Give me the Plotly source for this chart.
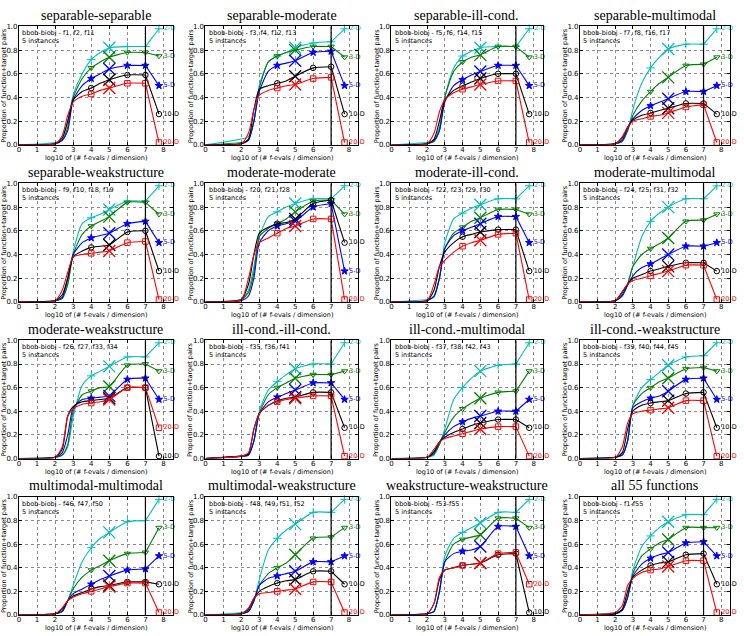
import plotly.graph_objects as go

# ---------------- data ----------------
PANEL_TITLES = [
    "separable-separable", "separable-moderate", "separable-ill-cond.", "separable-multimodal",
    "separable-weakstructure", "moderate-moderate", "moderate-ill-cond.", "moderate-multimodal",
    "moderate-weakstructure", "ill-cond.-ill-cond.", "ill-cond.-multimodal", "ill-cond.-weakstructure",
    "multimodal-multimodal", "multimodal-weakstructure", "weakstructure-weakstructure", "all 55 functions",
]
PANEL_FUNCS = [
    "f1, f2, f11", "f3, f4, f12, f13", "f5, f6, f14, f15", "f7, f8, f16, f17",
    "f9, f10, f18, f19", "f20, f21, f28", "f22, f23, f29, f30", "f24, f25, f31, f32",
    "f26, f27, f33, f34", "f35, f36, f41", "f37, f38, f42, f43", "f39, f40, f44, f45",
    "f46, f47, f50", "f48, f49, f51, f52", "f53-f55", "f1-f55",
]
DIM_LABELS = ["2-D", "3-D", "5-D", "10-D", "20-D"]

LOG_EVALS = [0.0, 2.0, 2.4, 2.7, 3.0, 3.5, 4.0, 4.5, 5.0, 6.0, 7.0, 7.75]

ECDF_2D = [
    [0, 0.02, 0.05, 0.20, 0.42, 0.60, 0.72, 0.78, 0.82, 0.83, 0.83, 0.98],
    [0, 0.05, 0.07, 0.20, 0.50, 0.70, 0.75, 0.78, 0.82, 0.86, 0.87, 0.98],
    [0, 0.02, 0.03, 0.15, 0.40, 0.65, 0.75, 0.79, 0.82, 0.83, 0.83, 0.98],
    [0, 0.01, 0.03, 0.12, 0.30, 0.52, 0.65, 0.74, 0.81, 0.85, 0.85, 0.98],
    [0, 0.01, 0.03, 0.15, 0.42, 0.66, 0.71, 0.74, 0.78, 0.85, 0.85, 0.98],
    [0, 0.02, 0.10, 0.30, 0.55, 0.72, 0.76, 0.80, 0.83, 0.87, 0.87, 0.98],
    [0, 0.02, 0.04, 0.20, 0.50, 0.70, 0.75, 0.79, 0.82, 0.87, 0.87, 0.98],
    [0, 0.01, 0.05, 0.15, 0.30, 0.55, 0.68, 0.75, 0.80, 0.87, 0.87, 0.98],
    [0, 0.01, 0.03, 0.10, 0.35, 0.62, 0.70, 0.74, 0.78, 0.86, 0.86, 0.98],
    [0, 0.02, 0.03, 0.15, 0.40, 0.58, 0.65, 0.71, 0.76, 0.80, 0.80, 0.98],
    [0, 0.01, 0.03, 0.12, 0.25, 0.50, 0.60, 0.68, 0.74, 0.79, 0.80, 0.98],
    [0, 0.01, 0.03, 0.15, 0.45, 0.60, 0.67, 0.73, 0.79, 0.86, 0.87, 0.98],
    [0, 0.01, 0.03, 0.12, 0.25, 0.45, 0.57, 0.65, 0.70, 0.79, 0.80, 0.98],
    [0, 0.02, 0.04, 0.12, 0.30, 0.55, 0.65, 0.72, 0.77, 0.87, 0.87, 0.98],
    [0, 0.01, 0.03, 0.20, 0.50, 0.65, 0.70, 0.74, 0.78, 0.87, 0.87, 0.98],
    [0, 0.02, 0.04, 0.15, 0.38, 0.58, 0.67, 0.74, 0.79, 0.85, 0.85, 0.98],
]
ECDF_3D = [
    [0, 0.01, 0.04, 0.15, 0.40, 0.56, 0.65, 0.70, 0.74, 0.78, 0.78, 0.75],
    [0, 0.02, 0.04, 0.20, 0.48, 0.70, 0.75, 0.78, 0.80, 0.83, 0.83, 0.74],
    [0, 0.01, 0.03, 0.12, 0.40, 0.62, 0.70, 0.74, 0.76, 0.83, 0.83, 0.74],
    [0, 0.01, 0.03, 0.12, 0.25, 0.37, 0.45, 0.52, 0.57, 0.67, 0.68, 0.74],
    [0, 0.01, 0.03, 0.15, 0.40, 0.57, 0.64, 0.68, 0.72, 0.84, 0.84, 0.74],
    [0, 0.02, 0.08, 0.25, 0.55, 0.62, 0.66, 0.70, 0.76, 0.85, 0.86, 0.74],
    [0, 0.01, 0.05, 0.20, 0.45, 0.58, 0.63, 0.68, 0.71, 0.78, 0.78, 0.74],
    [0, 0.01, 0.05, 0.15, 0.30, 0.40, 0.45, 0.49, 0.54, 0.68, 0.69, 0.74],
    [0, 0.01, 0.03, 0.12, 0.40, 0.54, 0.57, 0.60, 0.61, 0.79, 0.80, 0.74],
    [0, 0.02, 0.03, 0.15, 0.38, 0.54, 0.60, 0.64, 0.68, 0.71, 0.71, 0.74],
    [0, 0.01, 0.04, 0.12, 0.22, 0.35, 0.42, 0.47, 0.51, 0.56, 0.57, 0.74],
    [0, 0.01, 0.03, 0.15, 0.45, 0.55, 0.60, 0.65, 0.68, 0.76, 0.77, 0.74],
    [0, 0.01, 0.03, 0.12, 0.22, 0.32, 0.38, 0.42, 0.46, 0.52, 0.53, 0.74],
    [0, 0.01, 0.03, 0.12, 0.25, 0.35, 0.40, 0.44, 0.51, 0.65, 0.66, 0.74],
    [0, 0.01, 0.03, 0.20, 0.45, 0.60, 0.64, 0.66, 0.68, 0.82, 0.82, 0.74],
    [0, 0.01, 0.04, 0.15, 0.35, 0.50, 0.56, 0.61, 0.64, 0.74, 0.74, 0.74],
]
ECDF_5D = [
    [0, 0.01, 0.04, 0.12, 0.38, 0.50, 0.56, 0.60, 0.64, 0.67, 0.67, 0.50],
    [0, 0.01, 0.04, 0.20, 0.45, 0.62, 0.67, 0.69, 0.71, 0.78, 0.79, 0.50],
    [0, 0.01, 0.04, 0.12, 0.36, 0.50, 0.55, 0.59, 0.62, 0.67, 0.67, 0.50],
    [0, 0.01, 0.04, 0.14, 0.22, 0.29, 0.33, 0.36, 0.39, 0.45, 0.45, 0.50],
    [0, 0.01, 0.04, 0.20, 0.40, 0.50, 0.54, 0.56, 0.58, 0.66, 0.68, 0.50],
    [0, 0.01, 0.05, 0.20, 0.50, 0.60, 0.64, 0.66, 0.68, 0.80, 0.83, 0.26],
    [0, 0.01, 0.05, 0.20, 0.45, 0.56, 0.60, 0.63, 0.66, 0.72, 0.72, 0.50],
    [0, 0.01, 0.06, 0.14, 0.22, 0.29, 0.32, 0.36, 0.40, 0.47, 0.47, 0.50],
    [0, 0.01, 0.05, 0.20, 0.43, 0.50, 0.51, 0.52, 0.53, 0.67, 0.68, 0.50],
    [0, 0.02, 0.03, 0.15, 0.38, 0.48, 0.52, 0.55, 0.58, 0.64, 0.64, 0.50],
    [0, 0.01, 0.05, 0.14, 0.20, 0.27, 0.31, 0.34, 0.36, 0.40, 0.40, 0.50],
    [0, 0.01, 0.03, 0.15, 0.43, 0.48, 0.51, 0.53, 0.57, 0.67, 0.68, 0.50],
    [0, 0.01, 0.03, 0.12, 0.18, 0.22, 0.26, 0.30, 0.33, 0.38, 0.39, 0.50],
    [0, 0.01, 0.03, 0.12, 0.25, 0.31, 0.33, 0.35, 0.37, 0.45, 0.45, 0.50],
    [0, 0.01, 0.03, 0.20, 0.45, 0.52, 0.54, 0.55, 0.58, 0.75, 0.75, 0.50],
    [0, 0.01, 0.04, 0.15, 0.33, 0.43, 0.48, 0.51, 0.53, 0.61, 0.62, 0.50],
]
ECDF_10D = [
    [0, 0.01, 0.06, 0.20, 0.38, 0.45, 0.48, 0.52, 0.55, 0.59, 0.59, 0.26],
    [0, 0.01, 0.05, 0.30, 0.47, 0.50, 0.52, 0.54, 0.58, 0.65, 0.66, 0.26],
    [0, 0.01, 0.05, 0.20, 0.38, 0.46, 0.50, 0.53, 0.56, 0.60, 0.60, 0.26],
    [0, 0.01, 0.06, 0.15, 0.21, 0.25, 0.27, 0.29, 0.31, 0.35, 0.35, 0.26],
    [0, 0.01, 0.06, 0.20, 0.38, 0.43, 0.46, 0.47, 0.48, 0.59, 0.60, 0.26],
    [0, 0.02, 0.15, 0.40, 0.58, 0.63, 0.66, 0.67, 0.70, 0.83, 0.86, 0.50],
    [0, 0.01, 0.10, 0.30, 0.42, 0.50, 0.55, 0.57, 0.59, 0.61, 0.61, 0.26],
    [0, 0.01, 0.08, 0.15, 0.20, 0.23, 0.26, 0.28, 0.30, 0.33, 0.33, 0.26],
    [0, 0.01, 0.08, 0.36, 0.44, 0.48, 0.49, 0.50, 0.51, 0.60, 0.60, 0.02],
    [0, 0.02, 0.04, 0.25, 0.38, 0.45, 0.49, 0.51, 0.52, 0.56, 0.56, 0.26],
    [0, 0.01, 0.06, 0.14, 0.18, 0.22, 0.25, 0.28, 0.30, 0.33, 0.33, 0.26],
    [0, 0.01, 0.05, 0.25, 0.40, 0.45, 0.47, 0.48, 0.49, 0.55, 0.56, 0.26],
    [0, 0.01, 0.05, 0.12, 0.16, 0.19, 0.22, 0.24, 0.25, 0.28, 0.28, 0.26],
    [0, 0.01, 0.05, 0.14, 0.20, 0.24, 0.27, 0.29, 0.30, 0.37, 0.37, 0.26],
    [0, 0.01, 0.10, 0.30, 0.38, 0.40, 0.42, 0.43, 0.44, 0.51, 0.52, 0.02],
    [0, 0.01, 0.05, 0.20, 0.32, 0.38, 0.42, 0.44, 0.45, 0.51, 0.52, 0.26],
]
ECDF_20D = [
    [0, 0.01, 0.08, 0.25, 0.36, 0.41, 0.43, 0.46, 0.48, 0.52, 0.52, 0.02],
    [0, 0.01, 0.10, 0.30, 0.42, 0.46, 0.48, 0.50, 0.51, 0.56, 0.57, 0.02],
    [0, 0.01, 0.10, 0.28, 0.38, 0.44, 0.47, 0.49, 0.51, 0.54, 0.54, 0.02],
    [0, 0.01, 0.07, 0.15, 0.20, 0.22, 0.24, 0.25, 0.27, 0.32, 0.34, 0.02],
    [0, 0.01, 0.10, 0.25, 0.38, 0.40, 0.41, 0.42, 0.43, 0.50, 0.51, 0.02],
    [0, 0.02, 0.20, 0.40, 0.50, 0.54, 0.58, 0.62, 0.64, 0.70, 0.70, 0.02],
    [0, 0.01, 0.15, 0.30, 0.35, 0.42, 0.47, 0.50, 0.52, 0.57, 0.58, 0.02],
    [0, 0.01, 0.09, 0.15, 0.18, 0.20, 0.22, 0.24, 0.26, 0.31, 0.31, 0.02],
    [0, 0.01, 0.10, 0.36, 0.42, 0.46, 0.47, 0.48, 0.50, 0.60, 0.60, 0.26],
    [0, 0.02, 0.05, 0.25, 0.38, 0.45, 0.48, 0.50, 0.51, 0.53, 0.53, 0.02],
    [0, 0.01, 0.08, 0.14, 0.17, 0.19, 0.21, 0.23, 0.25, 0.27, 0.27, 0.02],
    [0, 0.01, 0.10, 0.30, 0.38, 0.40, 0.41, 0.42, 0.43, 0.49, 0.49, 0.02],
    [0, 0.01, 0.06, 0.12, 0.15, 0.18, 0.20, 0.22, 0.24, 0.27, 0.27, 0.02],
    [0, 0.01, 0.06, 0.14, 0.18, 0.19, 0.20, 0.21, 0.22, 0.28, 0.28, 0.02],
    [0, 0.01, 0.10, 0.32, 0.38, 0.40, 0.42, 0.43, 0.44, 0.52, 0.53, 0.26],
    [0, 0.02, 0.08, 0.25, 0.31, 0.36, 0.38, 0.39, 0.41, 0.46, 0.46, 0.02],
]

# ---------------- styles ----------------
SERIES = [ECDF_2D, ECDF_3D, ECDF_5D, ECDF_10D, ECDF_20D]
COLORS = ["#00BFBF", "#008000", "#0000FF", "#000000", "#FF0000"]
SYMBOLS = ["cross-thin-open", "triangle-down-open", "star", "circle-open", "square-open"]
MSIZES = [6, 5.5, 5.5, 5.5, 5.5]
MARK_IDX = [6, 9, 10]
X_IDX = 8
BUDGET_IDX = 10

COL_L = [17, 204, 390.5, 579.5]
COL_R = [171, 357, 542, 730]
ROW_T = [22.7, 181.7, 340.7, 499.3]
ROW_B = [142.7, 301.7, 460.3, 618.7]
W, H = 744, 636
TICKFONT = dict(family="DejaVu Sans", size=7, color="black")
SERIF = "Liberation Serif, Times New Roman, serif"

fig = go.Figure()
layout = {}
shapes = []
annotations = []

for p in range(16):
    r, c = divmod(p, 4)
    n = p + 1
    xa = "x" if n == 1 else f"x{n}"
    ya = "y" if n == 1 else f"y{n}"
    xd = [COL_L[c] / W, COL_R[c] / W]
    yd = [1 - ROW_B[r] / H, 1 - ROW_T[r] / H]
    common = dict(showgrid=True, gridcolor="#8a8a8a", griddash="dot", gridwidth=0.6,
                  showline=True, linecolor="black", linewidth=1, mirror="ticks",
                  ticks="inside", ticklen=3, tickcolor="black", tickfont=TICKFONT,
                  zeroline=False, fixedrange=True)
    layout["xaxis" if n == 1 else f"xaxis{n}"] = dict(
        domain=xd, range=[0, 8.5], tickmode="array", tickvals=list(range(9)),
        anchor=ya, ticklabelstandoff=-2, **common)
    layout["yaxis" if n == 1 else f"yaxis{n}"] = dict(
        domain=yd, range=[0, 1], tickmode="array",
        tickvals=[0, 0.2, 0.4, 0.6, 0.8, 1.0], tickformat=".1f",
        anchor=xa, ticklabelstandoff=-1, **common)

    for d in range(5):
        ys = SERIES[d][p]
        col = COLORS[d]
        fig.add_trace(go.Scatter(
            x=LOG_EVALS[:BUDGET_IDX + 1], y=ys[:BUDGET_IDX + 1], mode="lines",
            line=dict(color=col, width=1.1, shape="spline", smoothing=0.6),
            xaxis=xa, yaxis=ya, showlegend=False, hoverinfo="skip", cliponaxis=False))
        fig.add_trace(go.Scatter(
            x=LOG_EVALS[BUDGET_IDX:], y=ys[BUDGET_IDX:], mode="lines",
            line=dict(color=col, width=1.1),
            xaxis=xa, yaxis=ya, showlegend=False, hoverinfo="skip", cliponaxis=False))
        fig.add_trace(go.Scatter(
            x=[LOG_EVALS[i] for i in MARK_IDX], y=[ys[i] for i in MARK_IDX],
            mode="markers",
            marker=dict(symbol=SYMBOLS[d], size=MSIZES[d], color=col,
                        line=dict(color=col, width=1)),
            xaxis=xa, yaxis=ya, showlegend=False, hoverinfo="skip", cliponaxis=False))
        fig.add_trace(go.Scatter(
            x=[LOG_EVALS[X_IDX]], y=[ys[X_IDX]], mode="markers",
            marker=dict(symbol="x-thin-open", size=12, color=col,
                        line=dict(color=col, width=1.3)),
            xaxis=xa, yaxis=ya, showlegend=False, hoverinfo="skip", cliponaxis=False))
        fig.add_trace(go.Scatter(
            x=[LOG_EVALS[-1]], y=[ys[-1]], mode="markers+text", text=[DIM_LABELS[d]],
            textposition="middle right",
            marker=dict(symbol=SYMBOLS[d], size=MSIZES[d], color=col,
                        line=dict(color=col, width=1)),
            textfont=dict(family="DejaVu Sans", size=6.5, color=col),
            xaxis=xa, yaxis=ya, showlegend=False, hoverinfo="skip", cliponaxis=False))

    shapes.append(dict(type="line", xref=xa, yref=f"{ya} domain", x0=7, x1=7, y0=0, y1=1,
                       line=dict(color="black", width=1.2)))

    cx = (xd[0] + xd[1]) / 2
    annotations.append(dict(text=PANEL_TITLES[p], xref="paper", yref="paper",
                            x=cx, y=1 - (ROW_T[r] - 11.5) / H, xanchor="center", yanchor="middle",
                            showarrow=False, font=dict(family=SERIF, size=14, color="black")))
    annotations.append(dict(text="log10 of (# f-evals / dimension)", xref="paper", yref="paper",
                            x=cx, y=1 - (ROW_B[r] + 13.5) / H, xanchor="center", yanchor="middle",
                            showarrow=False, font=dict(family="DejaVu Sans", size=6.5, color="black")))
    annotations.append(dict(text="Proportion of function+target pairs", xref="paper", yref="paper",
                            x=(COL_L[c] - 15) / W, y=(yd[0] + yd[1]) / 2, xanchor="center",
                            yanchor="middle", textangle=-90,
                            showarrow=False, font=dict(family="DejaVu Sans", size=6.5, color="black")))
    annotations.append(dict(text=f"bbob-biobj - {PANEL_FUNCS[p]}<br>5 instances",
                            xref=f"{xa} domain", yref=f"{ya} domain", x=0.01, y=0.995,
                            xanchor="left", yanchor="top", align="left", showarrow=False,
                            font=dict(family="DejaVu Sans", size=6.5, color="black")))

fig.update_layout(width=W, height=H, margin=dict(l=0, r=0, t=0, b=0),
                  paper_bgcolor="white", plot_bgcolor="white",
                  shapes=shapes, annotations=annotations, **layout)
fig.write_html("out.html")
